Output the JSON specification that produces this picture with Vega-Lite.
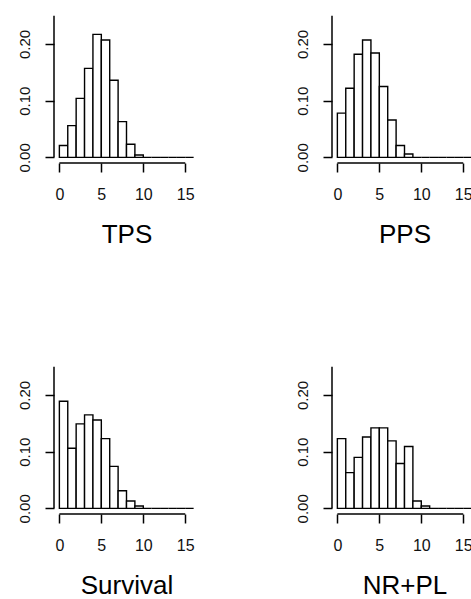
{
  "$schema": "https://vega.github.io/schema/vega-lite/v6.json",
  "padding": {"left": 17, "top": 10, "right": 0, "bottom": 0},
  "background": "white",
  "config": {
    "view": {"stroke": null},
    "font": "Liberation Sans",
    "axis": {
      "grid": false,
      "domain": false,
      "tickColor": "black",
      "tickWidth": 1.5,
      "tickSize": 9,
      "labelColor": "#111111",
      "labelFont": "Liberation Sans",
      "titleFont": "Liberation Sans",
      "titleColor": "black",
      "titleFontWeight": "normal"
    }
  },
  "data": {
    "values": [
      {"panel": "TPS", "start": 0, "end": 1, "density": 0.021},
      {"panel": "TPS", "start": 1, "end": 2, "density": 0.056},
      {"panel": "TPS", "start": 2, "end": 3, "density": 0.104},
      {"panel": "TPS", "start": 3, "end": 4, "density": 0.157},
      {"panel": "TPS", "start": 4, "end": 5, "density": 0.217},
      {"panel": "TPS", "start": 5, "end": 6, "density": 0.207},
      {"panel": "TPS", "start": 6, "end": 7, "density": 0.136},
      {"panel": "TPS", "start": 7, "end": 8, "density": 0.063},
      {"panel": "TPS", "start": 8, "end": 9, "density": 0.023},
      {"panel": "TPS", "start": 9, "end": 10, "density": 0.004},
      {"panel": "TPS", "start": 10, "end": 11, "density": 0},
      {"panel": "TPS", "start": 11, "end": 12, "density": 0},
      {"panel": "TPS", "start": 12, "end": 13, "density": 0},
      {"panel": "TPS", "start": 13, "end": 14, "density": 0},
      {"panel": "TPS", "start": 14, "end": 15, "density": 0},
      {"panel": "TPS", "start": 15, "end": 16, "density": 0},
      {"panel": "PPS", "start": 0, "end": 1, "density": 0.078},
      {"panel": "PPS", "start": 1, "end": 2, "density": 0.122},
      {"panel": "PPS", "start": 2, "end": 3, "density": 0.182},
      {"panel": "PPS", "start": 3, "end": 4, "density": 0.207},
      {"panel": "PPS", "start": 4, "end": 5, "density": 0.184},
      {"panel": "PPS", "start": 5, "end": 6, "density": 0.125},
      {"panel": "PPS", "start": 6, "end": 7, "density": 0.066},
      {"panel": "PPS", "start": 7, "end": 8, "density": 0.021},
      {"panel": "PPS", "start": 8, "end": 9, "density": 0.006},
      {"panel": "PPS", "start": 9, "end": 10, "density": 0},
      {"panel": "PPS", "start": 10, "end": 11, "density": 0},
      {"panel": "PPS", "start": 11, "end": 12, "density": 0},
      {"panel": "PPS", "start": 12, "end": 13, "density": 0},
      {"panel": "PPS", "start": 13, "end": 14, "density": 0},
      {"panel": "PPS", "start": 14, "end": 15, "density": 0},
      {"panel": "PPS", "start": 15, "end": 16, "density": 0},
      {"panel": "Survival", "start": 0, "end": 1, "density": 0.189},
      {"panel": "Survival", "start": 1, "end": 2, "density": 0.106},
      {"panel": "Survival", "start": 2, "end": 3, "density": 0.149},
      {"panel": "Survival", "start": 3, "end": 4, "density": 0.165},
      {"panel": "Survival", "start": 4, "end": 5, "density": 0.156},
      {"panel": "Survival", "start": 5, "end": 6, "density": 0.123},
      {"panel": "Survival", "start": 6, "end": 7, "density": 0.074},
      {"panel": "Survival", "start": 7, "end": 8, "density": 0.031},
      {"panel": "Survival", "start": 8, "end": 9, "density": 0.013},
      {"panel": "Survival", "start": 9, "end": 10, "density": 0.004},
      {"panel": "Survival", "start": 10, "end": 11, "density": 0},
      {"panel": "Survival", "start": 11, "end": 12, "density": 0},
      {"panel": "Survival", "start": 12, "end": 13, "density": 0},
      {"panel": "Survival", "start": 13, "end": 14, "density": 0},
      {"panel": "Survival", "start": 14, "end": 15, "density": 0},
      {"panel": "Survival", "start": 15, "end": 16, "density": 0},
      {"panel": "NR+PL", "start": 0, "end": 1, "density": 0.123},
      {"panel": "NR+PL", "start": 1, "end": 2, "density": 0.063},
      {"panel": "NR+PL", "start": 2, "end": 3, "density": 0.090},
      {"panel": "NR+PL", "start": 3, "end": 4, "density": 0.126},
      {"panel": "NR+PL", "start": 4, "end": 5, "density": 0.142},
      {"panel": "NR+PL", "start": 5, "end": 6, "density": 0.142},
      {"panel": "NR+PL", "start": 6, "end": 7, "density": 0.119},
      {"panel": "NR+PL", "start": 7, "end": 8, "density": 0.079},
      {"panel": "NR+PL", "start": 8, "end": 9, "density": 0.109},
      {"panel": "NR+PL", "start": 9, "end": 10, "density": 0.013},
      {"panel": "NR+PL", "start": 10, "end": 11, "density": 0.004},
      {"panel": "NR+PL", "start": 11, "end": 12, "density": 0},
      {"panel": "NR+PL", "start": 12, "end": 13, "density": 0},
      {"panel": "NR+PL", "start": 13, "end": 14, "density": 0},
      {"panel": "NR+PL", "start": 14, "end": 15, "density": 0},
      {"panel": "NR+PL", "start": 15, "end": 16, "density": 0}
    ]
  },
  "columns": 2,
  "spacing": {"row": 198, "column": 133},
  "bounds": "flush",
  "concat": [
    {
      "width": 145, "height": 153,
      "transform": [{"filter": "datum.panel === 'TPS'"}],
      "layer": [
        {
          "mark": {"type": "rect", "fill": "white", "stroke": "black", "strokeWidth": 1.4},
          "encoding": {
            "x": {"field": "start", "type": "quantitative", "scale": {"domain": [-0.64, 16.64], "nice": false, "zero": false},
                  "axis": {"values": [0, 5, 10, 15], "title": "TPS", "labelFontSize": 16, "labelPadding": 14, "titleFontSize": 26, "titlePadding": 19}},
            "x2": {"field": "end"},
            "y": {"field": "density", "type": "quantitative", "scale": {"domain": [-0.01, 0.26], "nice": false, "zero": false},
                  "axis": {"values": [0, 0.05, 0.1, 0.15, 0.2, 0.25], "title": null, "labelFontSize": 15, "labelAngle": 270, "labelAlign": "center", "labelBaseline": "alphabetic", "labelPadding": 16,
                           "labelExpr": "(datum.value < 0.001 || abs(datum.value - 0.1) < 0.001 || abs(datum.value - 0.2) < 0.001) ? format(datum.value, '.2f') : ''"}},
            "y2": {"datum": 0}
          }
        },
        {
          "data": {"values": [{}]},
          "mark": {"type": "rule", "stroke": "black", "strokeWidth": 1.5},
          "encoding": {"x": {"datum": 0, "type": "quantitative"}, "x2": {"datum": 15}, "y": {"datum": -0.01, "type": "quantitative"}}
        },
        {
          "data": {"values": [{}]},
          "mark": {"type": "rule", "stroke": "black", "strokeWidth": 1.5},
          "encoding": {"x": {"datum": -0.64, "type": "quantitative"}, "y": {"datum": 0, "type": "quantitative"}, "y2": {"datum": 0.25}}
        }
      ]
    },
    {
      "width": 145, "height": 153,
      "transform": [{"filter": "datum.panel === 'PPS'"}],
      "layer": [
        {
          "mark": {"type": "rect", "fill": "white", "stroke": "black", "strokeWidth": 1.4},
          "encoding": {
            "x": {"field": "start", "type": "quantitative", "scale": {"domain": [-0.64, 16.64], "nice": false, "zero": false},
                  "axis": {"values": [0, 5, 10, 15], "title": "PPS", "labelFontSize": 16, "labelPadding": 14, "titleFontSize": 26, "titlePadding": 19}},
            "x2": {"field": "end"},
            "y": {"field": "density", "type": "quantitative", "scale": {"domain": [-0.01, 0.26], "nice": false, "zero": false},
                  "axis": {"values": [0, 0.05, 0.1, 0.15, 0.2, 0.25], "title": null, "labelFontSize": 15, "labelAngle": 270, "labelAlign": "center", "labelBaseline": "alphabetic", "labelPadding": 16,
                           "labelExpr": "(datum.value < 0.001 || abs(datum.value - 0.1) < 0.001 || abs(datum.value - 0.2) < 0.001) ? format(datum.value, '.2f') : ''"}},
            "y2": {"datum": 0}
          }
        },
        {
          "data": {"values": [{}]},
          "mark": {"type": "rule", "stroke": "black", "strokeWidth": 1.5},
          "encoding": {"x": {"datum": 0, "type": "quantitative"}, "x2": {"datum": 15}, "y": {"datum": -0.01, "type": "quantitative"}}
        },
        {
          "data": {"values": [{}]},
          "mark": {"type": "rule", "stroke": "black", "strokeWidth": 1.5},
          "encoding": {"x": {"datum": -0.64, "type": "quantitative"}, "y": {"datum": 0, "type": "quantitative"}, "y2": {"datum": 0.25}}
        }
      ]
    },
    {
      "width": 145, "height": 153,
      "transform": [{"filter": "datum.panel === 'Survival'"}],
      "layer": [
        {
          "mark": {"type": "rect", "fill": "white", "stroke": "black", "strokeWidth": 1.4},
          "encoding": {
            "x": {"field": "start", "type": "quantitative", "scale": {"domain": [-0.64, 16.64], "nice": false, "zero": false},
                  "axis": {"values": [0, 5, 10, 15], "title": "Survival", "labelFontSize": 16, "labelPadding": 14, "titleFontSize": 26, "titlePadding": 19}},
            "x2": {"field": "end"},
            "y": {"field": "density", "type": "quantitative", "scale": {"domain": [-0.01, 0.26], "nice": false, "zero": false},
                  "axis": {"values": [0, 0.05, 0.1, 0.15, 0.2, 0.25], "title": null, "labelFontSize": 15, "labelAngle": 270, "labelAlign": "center", "labelBaseline": "alphabetic", "labelPadding": 16,
                           "labelExpr": "(datum.value < 0.001 || abs(datum.value - 0.1) < 0.001 || abs(datum.value - 0.2) < 0.001) ? format(datum.value, '.2f') : ''"}},
            "y2": {"datum": 0}
          }
        },
        {
          "data": {"values": [{}]},
          "mark": {"type": "rule", "stroke": "black", "strokeWidth": 1.5},
          "encoding": {"x": {"datum": 0, "type": "quantitative"}, "x2": {"datum": 15}, "y": {"datum": -0.01, "type": "quantitative"}}
        },
        {
          "data": {"values": [{}]},
          "mark": {"type": "rule", "stroke": "black", "strokeWidth": 1.5},
          "encoding": {"x": {"datum": -0.64, "type": "quantitative"}, "y": {"datum": 0, "type": "quantitative"}, "y2": {"datum": 0.25}}
        }
      ]
    },
    {
      "width": 145, "height": 153,
      "transform": [{"filter": "datum.panel === 'NR+PL'"}],
      "layer": [
        {
          "mark": {"type": "rect", "fill": "white", "stroke": "black", "strokeWidth": 1.4},
          "encoding": {
            "x": {"field": "start", "type": "quantitative", "scale": {"domain": [-0.64, 16.64], "nice": false, "zero": false},
                  "axis": {"values": [0, 5, 10, 15], "title": "NR+PL", "labelFontSize": 16, "labelPadding": 14, "titleFontSize": 26, "titlePadding": 19}},
            "x2": {"field": "end"},
            "y": {"field": "density", "type": "quantitative", "scale": {"domain": [-0.01, 0.26], "nice": false, "zero": false},
                  "axis": {"values": [0, 0.05, 0.1, 0.15, 0.2, 0.25], "title": null, "labelFontSize": 15, "labelAngle": 270, "labelAlign": "center", "labelBaseline": "alphabetic", "labelPadding": 16,
                           "labelExpr": "(datum.value < 0.001 || abs(datum.value - 0.1) < 0.001 || abs(datum.value - 0.2) < 0.001) ? format(datum.value, '.2f') : ''"}},
            "y2": {"datum": 0}
          }
        },
        {
          "data": {"values": [{}]},
          "mark": {"type": "rule", "stroke": "black", "strokeWidth": 1.5},
          "encoding": {"x": {"datum": 0, "type": "quantitative"}, "x2": {"datum": 15}, "y": {"datum": -0.01, "type": "quantitative"}}
        },
        {
          "data": {"values": [{}]},
          "mark": {"type": "rule", "stroke": "black", "strokeWidth": 1.5},
          "encoding": {"x": {"datum": -0.64, "type": "quantitative"}, "y": {"datum": 0, "type": "quantitative"}, "y2": {"datum": 0.25}}
        }
      ]
    }
  ]
}
